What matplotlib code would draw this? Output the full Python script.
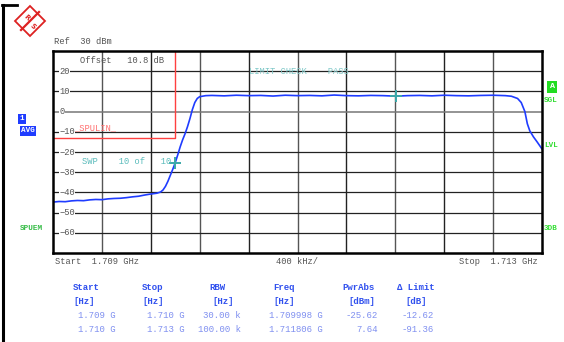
import matplotlib.pyplot as plt
from matplotlib.patches import Polygon
from matplotlib.lines import Line2D

# spectrum trace, MHz / dBm
freq_mhz = [1709.00, 1709.05, 1709.10, 1709.15, 1709.20, 1709.25, 1709.30, 1709.35,
            1709.40, 1709.45, 1709.50, 1709.55, 1709.60, 1709.65, 1709.70, 1709.75,
            1709.80, 1709.85, 1709.88, 1709.90, 1709.92, 1709.94, 1709.96, 1709.98,
            1709.998, 1710.02, 1710.04, 1710.06, 1710.08, 1710.10, 1710.12, 1710.14,
            1710.16, 1710.18, 1710.20, 1710.25, 1710.30, 1710.40, 1710.50, 1710.60,
            1710.70, 1710.80, 1710.90, 1711.00, 1711.10, 1711.20, 1711.30, 1711.40,
            1711.50, 1711.60, 1711.70, 1711.806, 1711.90, 1712.00, 1712.10, 1712.20,
            1712.30, 1712.40, 1712.50, 1712.60, 1712.70, 1712.75, 1712.80, 1712.83,
            1712.86, 1712.88, 1712.90, 1712.93, 1712.96, 1713.00]
level_dbm = [-44.8, -44.5, -44.6, -44.2, -44.0, -44.1, -43.7, -43.5,
             -43.6, -43.2, -43.0, -42.9, -42.6, -42.2, -41.9, -41.3,
             -40.8, -40.4, -39.8, -38.8, -37.0, -34.5, -31.5, -28.5,
             -25.62, -21.5, -17.5, -14.0, -11.0, -7.5, -3.5, 1.0,
             4.5, 6.5, 7.4, 7.9, 8.0, 7.8, 8.1, 7.9,
             8.0, 7.7, 8.1, 7.9, 8.0, 7.8, 8.2, 7.9,
             7.8, 8.0, 7.9, 7.64, 7.9, 8.0, 7.8, 8.1,
             7.9, 7.8, 8.0, 8.1, 7.9, 7.6, 6.5, 4.5,
             0.0, -6.0, -9.5, -12.5, -15.0, -18.5]

# limit line SPULIN
limit_f = [1709.0, 1709.998, 1709.998]
limit_v = [-13.0, -13.0, 40.0]

marker_f = [1709.998, 1711.806]
marker_v = [-25.62, 7.64]

y_ticks = [20, 10, 0, -10, -20, -30, -40, -50, -60]

tbl_head = ['Start', 'Stop', 'RBW', 'Freq', 'PwrAbs', 'Limit']
tbl_unit = ['[Hz]', '[Hz]', '[Hz]', '[Hz]', '[dBm]', '[dB]']
row1 = ['1.709 G', '1.710 G', '30.00 k', '1.709998 G', '-25.62', '-12.62']
row2 = ['1.710 G', '1.713 G', '100.00 k', '1.711806 G', '7.64', '-91.36']

W, H = 564, 342
def fx(x):
    return x / W
def fy(y):
    return 1 - y / H

mono = 'Liberation Mono'
blue = '#1f3cff'
green = '#22cc22'
teal = '#3aa8a8'

fig = plt.figure(figsize=(5.64, 3.42), dpi=100)
fig.patch.set_facecolor('white')

ax = fig.add_axes([fx(53), fy(253), (542 - 53) / W, (253 - 51) / H])
ax.set_xlim(1709, 1713)
ax.set_ylim(-70, 30)
for x in range(1, 10):
    ax.axvline(1709 + x * 0.4, color='#555555' if x % 2 else '#222222', lw=1)
for y in range(-60, 30, 10):
    ax.axhline(y, color='#777777' if y == 0 else '#222222', lw=1.1 if y == 0 else 0.9)
for s in ax.spines.values():
    s.set_color('black')
    s.set_linewidth(1.8)
ax.set_xticks([])
ax.set_yticks([])

ax.plot(limit_f, limit_v, color='#ff4040', lw=1)
ax.plot(freq_mhz, level_dbm, color=blue, lw=1.2)
ax.plot(marker_f, marker_v, '+', color=teal, ms=9, mew=1.4)

for v in y_ticks:
    ax.text(1709.05, v, str(v).replace('-', '\u2212'), fontsize=6.3, family=mono,
            color='#555555', va='center', ha='left',
            bbox=dict(facecolor='white', edgecolor='none', pad=0.3))

ax.text(1709.22, 25.5, 'Offset   10.8 dB', fontsize=6.3, family=mono, color='#555555', va='center')
ax.text(1710.6, 20, 'LIMIT CHECK    PASS', fontsize=6.3, family=mono, color='#7fc8c8', va='center')
ax.text(1709.24, -24.5, 'SWP    10 of   10', fontsize=6.3, family=mono, color='#5bbcbc', va='center')
ax.text(1709.17, -7.8, '_SPULIN_', fontsize=6.3, family=mono, color='#ff7070', va='center')

# labels around the screen
fig.text(fx(54), fy(42), 'Ref  30 dBm', fontsize=6.3, family=mono, color='#555555', va='center')
fig.text(fx(55), fy(262), 'Start  1.709 GHz', fontsize=6.3, family=mono, color='#555555', va='center')
fig.text(fx(276), fy(262), '400 kHz/', fontsize=6.3, family=mono, color='#555555', va='center')
fig.text(fx(538), fy(262), 'Stop  1.713 GHz', fontsize=6.3, family=mono, color='#555555', va='center', ha='right')

fig.text(fx(22), fy(119), '1', fontsize=5.5, family=mono, weight='bold', color='white', va='center', ha='center',
         bbox=dict(facecolor=blue, edgecolor='none', pad=1.2))
fig.text(fx(28), fy(131), 'AVG', fontsize=5.5, family=mono, weight='bold', color='white', va='center', ha='center',
         bbox=dict(facecolor=blue, edgecolor='none', pad=1.0))
fig.text(fx(20), fy(228), 'SPUEM', fontsize=5.5, family=mono, weight='bold', color='#33bb44', va='center')
fig.text(fx(552), fy(87), 'A', fontsize=6, family=mono, weight='bold', color='white', va='center', ha='center',
         bbox=dict(facecolor='#22dd22', edgecolor='none', pad=2.0))
for y, s in [(101, 'SGL'), (145, 'LVL'), (229, '3DB')]:
    fig.text(fx(544), fy(y), s, fontsize=5.5, family=mono, weight='bold', color='#33dd33', va='center')

# results table
head_x = [73, 142, 209, 273, 342, 397]
unit_x = [73, 142, 212, 273, 348, 405]
val_r = [116, 185, 241, 323, 378, 434]
for i in range(6):
    label = tbl_head[i] if i < 5 else '\u0394 ' + tbl_head[i]
    fig.text(fx(head_x[i]), fy(287), label, fontsize=6.5, family=mono, weight='bold', color='#3050ee', va='center')
    fig.text(fx(unit_x[i]), fy(301), tbl_unit[i], fontsize=6.5, family=mono, weight='bold', color='#3050ee', va='center')
    fig.text(fx(val_r[i]), fy(315), row1[i], fontsize=6.5, family=mono, color='#7f8ff0', va='center', ha='right')
    fig.text(fx(val_r[i]), fy(330), row2[i], fontsize=6.5, family=mono, color='#7f8ff0', va='center', ha='right')

# outer frame
fig.add_artist(Line2D([fx(3), fx(3)], [fy(5), 0], color='black', lw=2.2))
fig.add_artist(Line2D([fx(2), fx(17)], [fy(5), fy(5)], color='black', lw=2))

# R&S logo
cx, cy, r = 30, 21, 15
fig.add_artist(Polygon([(fx(cx - r), fy(cy)), (fx(cx), fy(cy - r)), (fx(cx + r), fy(cy)), (fx(cx), fy(cy + r))],
                       closed=True, facecolor='white', edgecolor='#dd2222', lw=1.3))
fig.add_artist(Line2D([fx(cx - 9), fx(cx + 9)], [fy(cy + 9), fy(cy - 9)], color='#dd2222', lw=1.6))
fig.text(fx(cx - 3), fy(cy - 4), 'R', fontsize=5, weight='bold', color='#dd2222', ha='center', va='center', rotation=-45)
fig.text(fx(cx + 3), fy(cy + 5), 'S', fontsize=5, weight='bold', color='#dd2222', ha='center', va='center', rotation=-45)

plt.savefig('out.png', dpi=100)
